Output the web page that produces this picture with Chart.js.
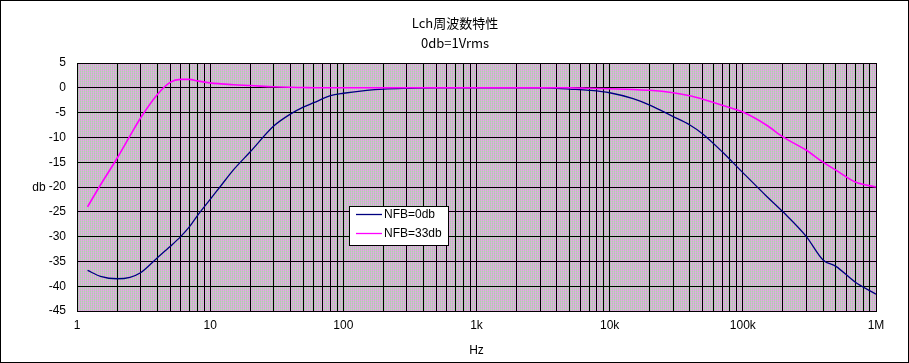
<!DOCTYPE html>
<html>
<head>
<meta charset="utf-8">
<script src="https://cdn.jsdelivr.net/npm/chart.js@4/dist/chart.umd.min.js"></script>
<style>
  html, body { margin: 0; padding: 0; background: #fff; }
  #wrap { width: 909px; height: 363px; position: relative; }
</style>
</head>
<body>
<div id="wrap"><canvas id="c" width="909" height="363"></canvas></div>
<script>
// ---- data ----
const titleText = 'Lch周波数特性';
const subtitleText = '0db=1Vrms';
const yAxisTitle = 'db';
const xAxisTitle = 'Hz';
const seriesLabels = ['NFB=0db', 'NFB=33db'];
const xTickLabels = ['1', '10', '100', '1k', '10k', '100k', '1M'];

const freqs = [1.2, 1.5, 2, 2.5, 3, 4, 5, 6, 7, 8, 10, 12, 15, 20, 30, 40, 50, 60, 80, 100,
  150, 200, 300, 500, 1000, 2000, 3000, 4000, 5000, 7000, 10000, 15000, 20000, 30000, 40000,
  50000, 70000, 100000, 150000, 200000, 300000, 400000, 500000, 700000, 1000000];

const nfb0 = [-36.8, -38.0, -38.5, -38.2, -37.3, -34.3, -32.0, -30.0, -28.0, -25.8, -22.5, -19.8,
  -16.5, -12.9, -7.7, -5.3, -3.9, -3.0, -1.6, -1.1, -0.5, -0.25, -0.1, 0, 0, 0, 0, -0.1, -0.25,
  -0.5, -1.0, -2.2, -3.5, -5.8, -7.5, -9.3, -12.9, -17.1, -21.8, -25.0, -30.0, -34.7, -36.0,
  -39.2, -41.6];

const nfb33 = [-24.0, -19.6, -14.2, -9.7, -6.1, -1.4, 1.1, 1.7, 1.7, 1.4, 1.0, 0.8, 0.6, 0.45,
  0.2, 0.1, 0.05, 0, 0, 0, 0, 0, 0, 0, 0, 0, 0, 0, 0, -0.1, -0.2, -0.35, -0.5, -1.0, -1.6, -2.3,
  -3.5, -4.9, -7.5, -9.9, -12.6, -15.0, -16.6, -19.0, -20.0];

const seriesColors = ['#000080', '#FF00FF'];

// ---- helpers ----
function toPoints(xs, ys) { return xs.map((x, i) => ({ x: x, y: ys[i] })); }

function makePattern(ctx) {
  const pc = document.createElement('canvas');
  pc.width = 2; pc.height = 2;
  const p = pc.getContext('2d');
  p.fillStyle = '#C8B8C8'; p.fillRect(0, 0, 1, 1);
  p.fillStyle = '#E8A4E8'; p.fillRect(1, 0, 1, 1);
  p.fillStyle = '#ACD4AC'; p.fillRect(0, 1, 1, 1);
  p.fillStyle = '#D0BCD0'; p.fillRect(1, 1, 1, 1);
  return ctx.createPattern(pc, 'repeat');
}

const latin = '"Liberation Sans", Arial, sans-serif';
const cjk = '"Noto Sans CJK JP", "Liberation Sans", sans-serif';

const decorPlugin = {
  id: 'decor',
  beforeDraw(chart) {
    const { ctx, chartArea: a } = chart;
    ctx.save();
    ctx.fillStyle = '#fff';
    ctx.fillRect(0, 0, chart.width, chart.height);
    ctx.fillStyle = makePattern(ctx);
    ctx.fillRect(a.left, a.top, a.right - a.left, a.bottom - a.top);
    ctx.restore();
  },
  afterDraw(chart) {
    const { ctx, chartArea: a } = chart;
    ctx.save();
    // outer border
    ctx.strokeStyle = '#000';
    ctx.lineWidth = 1;
    ctx.strokeRect(0.5, 0.5, chart.width - 1, chart.height - 1);
    // titles
    ctx.fillStyle = '#000';
    ctx.textAlign = 'center';
    ctx.textBaseline = 'middle';
    ctx.font = '13px ' + cjk;
    ctx.fillText(titleText, 455, 23);
    ctx.fillText(subtitleText, 455, 43);
    // axis titles
    ctx.font = '12px ' + latin;
    ctx.fillText(yAxisTitle, 39, 188);
    ctx.fillText(xAxisTitle, (a.left + a.right) / 2, 351);
    // legend
    const lx = 349, ly = 206, lw = 99, lh = 39;
    ctx.fillStyle = '#fff';
    ctx.fillRect(lx, ly, lw, lh);
    ctx.strokeStyle = '#000';
    ctx.strokeRect(lx + 0.5, ly + 0.5, lw, lh);
    const rows = [214.5, 233.5];
    chart.data.datasets.forEach((ds, i) => {
      ctx.strokeStyle = ds.borderColor;
      ctx.lineWidth = 1.3;
      ctx.beginPath();
      ctx.moveTo(356, rows[i]);
      ctx.lineTo(382, rows[i]);
      ctx.stroke();
      ctx.fillStyle = '#000';
      ctx.textAlign = 'left';
      ctx.font = '12px ' + latin;
      ctx.fillText(ds.label, 384, rows[i] + 0.5);
    });
    ctx.restore();
  }
};

const ctx = document.getElementById('c').getContext('2d');
new Chart(ctx, {
  type: 'line',
  data: {
    datasets: [
      {
        label: seriesLabels[0],
        data: toPoints(freqs, nfb0),
        borderColor: seriesColors[0],
        borderWidth: 1.3,
        pointRadius: 0,
        cubicInterpolationMode: 'monotone',
        fill: false,
        order: 2
      },
      {
        label: seriesLabels[1],
        data: toPoints(freqs, nfb33),
        borderColor: seriesColors[1],
        borderWidth: 1.6,
        pointRadius: 0,
        cubicInterpolationMode: 'monotone',
        fill: false,
        order: 1
      }
    ]
  },
  options: {
    responsive: false,
    animation: false,
    events: [],
    layout: { padding: { left: 0, top: 63, right: 33, bottom: 0 } },
    plugins: {
      legend: { display: false },
      title: { display: false },
      tooltip: { enabled: false }
    },
    scales: {
      x: {
        type: 'logarithmic',
        position: 'bottom',
        min: 1,
        max: 1000000,
        afterFit(scale) { scale.height = 52; },
        afterBuildTicks(scale) {
          const t = [];
          for (let e = 0; e < 6; e++) {
            for (let m = 1; m < 10; m++) t.push({ value: m * Math.pow(10, e) });
          }
          t.push({ value: 1000000 });
          scale.ticks = t;
        },
        grid: { color: '#000', lineWidth: 1, drawTicks: false },
        border: { display: true, color: '#000' },
        ticks: {
          autoSkip: false,
          maxRotation: 0,
          minRotation: 0,
          padding: 7,
          color: '#000',
          font: { family: latin, size: 12 },
          callback(value) {
            const e = Math.round(Math.log10(value));
            if (Math.abs(Math.pow(10, e) - value) < 1e-6 * value) return xTickLabels[e];
            return '';
          }
        }
      },
      y: {
        type: 'linear',
        position: 'left',
        min: -45,
        max: 5,
        afterFit(scale) { scale.width = 77; },
        grid: { color: '#000', lineWidth: 1, drawTicks: false },
        border: { display: true, color: '#000' },
        ticks: {
          stepSize: 5,
          padding: 11,
          color: '#000',
          font: { family: latin, size: 12 },
          callback(value) { return String(value); }
        }
      }
    }
  },
  plugins: [decorPlugin]
});
</script>
</body>
</html>
